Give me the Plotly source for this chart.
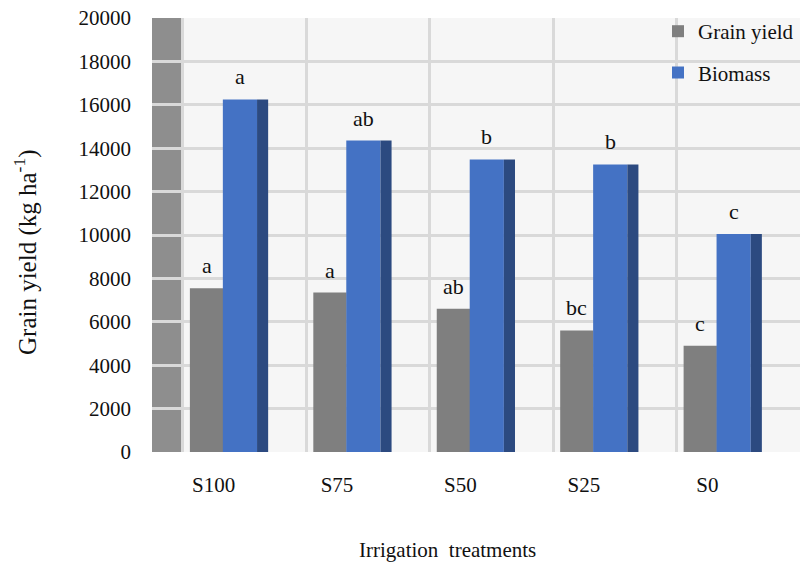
import plotly.graph_objects as go

treatments = ["S100", "S75", "S50", "S25", "S0"]
grain_yield = [7550, 7350, 6600, 5600, 4900]
biomass = [16250, 14350, 13480, 13250, 10050]
grain_letters = ["a", "a", "ab", "bc", "c"]
biomass_letters = ["a", "ab", "b", "b", "c"]
y_ticks = list(range(0, 20001, 2000))

FONT = "Liberation Serif"
GRAY = "#7f7f7f"
BLUE = "#4472c4"
BLUE_SIDE = "#2c4a80"
TXT = "#111111"

g_off, g_w = -0.443, 0.27
b_off, b_w = -0.176, 0.277
s_off, s_w = 0.101, 0.09

fig = go.Figure()
fig.add_trace(go.Bar(x=treatments, y=grain_yield, name="Grain yield",
                     marker=dict(color=GRAY, line=dict(width=0)),
                     offset=g_off, width=g_w, legendgroup="g"))
fig.add_trace(go.Bar(x=treatments, y=biomass, name="Biomass",
                     marker=dict(color=BLUE, line=dict(width=0)),
                     offset=b_off, width=b_w, legendgroup="b"))
fig.add_trace(go.Bar(x=treatments, y=biomass, name="Biomass side",
                     marker=dict(color=BLUE_SIDE, line=dict(width=0)),
                     offset=s_off, width=s_w, showlegend=False, hoverinfo="skip"))

annotations = []
for i, (gv, bv, gl, bl) in enumerate(zip(grain_yield, biomass, grain_letters, biomass_letters)):
    annotations.append(dict(x=i + g_off + g_w / 2, y=gv, xref="x", yref="y", text=gl,
                            showarrow=False, yanchor="bottom", yshift=8,
                            font=dict(family=FONT, size=22, color=TXT)))
    annotations.append(dict(x=i + b_off + b_w / 2, y=bv, xref="x", yref="y", text=bl,
                            showarrow=False, yanchor="bottom", yshift=8,
                            font=dict(family=FONT, size=22, color=TXT)))

annotations.append(dict(x=(447 - 152) / 648, y=(452 - 550) / 434, xref="paper", yref="paper",
                        xanchor="center", yanchor="middle",
                        text="Irrigation  treatments", showarrow=False,
                        font=dict(family=FONT, size=21, color=TXT)))
annotations.append(dict(x=(25 - 152) / 648, y=(452 - 252) / 434, xref="paper", yref="paper",
                        xanchor="center", yanchor="middle", textangle=-90,
                        text="Grain yield (kg ha<sup>-1</sup>)", showarrow=False,
                        font=dict(family=FONT, size=25, color=TXT)))

shapes = [
    dict(type="rect", xref="x", yref="y", x0=-0.75, x1=-0.5, y0=0, y1=20000,
         fillcolor="#8e8e8e", line=dict(width=0), layer="below"),
]

fig.update_layout(
    width=800, height=567,
    margin=dict(l=152, r=0, t=18, b=115, autoexpand=False),
    paper_bgcolor="white",
    plot_bgcolor="#f6f6f6",
    barmode="overlay",
    font=dict(family=FONT, size=21, color=TXT),
    xaxis=dict(type="category", range=[-0.75, 4.5], tickson="boundaries",
               showgrid=True, gridcolor="#d9d9d9", gridwidth=2.5,
               ticks="", ticklabelstandoff=18, ticklabelshift=-31,
               zeroline=False, showline=False,
               tickfont=dict(family=FONT, size=21, color=TXT)),
    yaxis=dict(range=[0, 20000], tickvals=y_ticks, tickformat="d",
               showgrid=True, gridcolor="#d9d9d9", gridwidth=2.5,
               zeroline=False, showline=False, ticks="", ticklabelstandoff=20,
               tickfont=dict(family=FONT, size=21, color=TXT)),
    legend=dict(x=(658 - 152) / 648, y=1.016, xanchor="left", yanchor="top",
                bgcolor="rgba(0,0,0,0)", traceorder="grouped", tracegroupgap=11,
                font=dict(family=FONT, size=21, color=TXT),
                itemwidth=30),
    annotations=annotations,
    shapes=shapes,
)

fig.write_html("out.html", config={"displayModeBar": False},
               post_script="document.body.style.margin='0';")
